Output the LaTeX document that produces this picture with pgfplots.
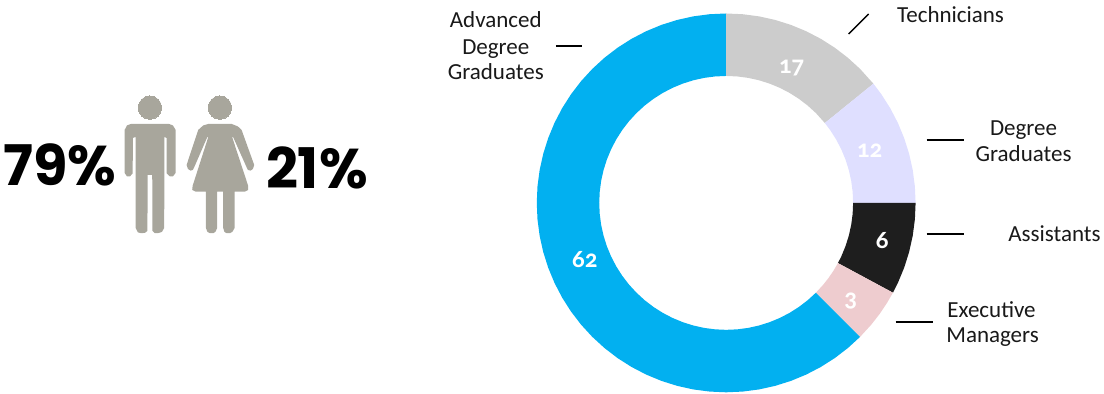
\documentclass[border=0pt]{standalone}
\usepackage{fontspec}
\setmainfont{Carlito}
\newfontfamily\bigfont{Poppins}
\newfontfamily\numfont{Carlito}[RawFeature=+onum]
\usepackage{pgfplots}
\pgfplotsset{compat=1.18}
\definecolor{cblue}{HTML}{02B0F0}
\definecolor{cgray}{HTML}{CCCCCC}
\definecolor{clav}{HTML}{DFDFFF}
\definecolor{cblack}{HTML}{1E1E1E}
\definecolor{cpink}{HTML}{EECCCF}
\definecolor{cicon}{HTML}{A8A69C}
\pgfplotsset{
  px/.style={x filter/.expression={x-726.5},y filter/.expression={203-y}},
  wedge/.style={data cs=polar,draw=none,fill=#1,mark=none},
  tick line/.style={px,black,line width=1.4pt,mark=none},
}
\tikzset{
  lab/.style={anchor=base,font=\fontsize{23}{23}\selectfont,text=black!90},
  val/.style={anchor=base,font=\fontsize{25}{25}\selectfont\numfont\bfseries,text=white},
  bigpct/.style={anchor=base,font=\fontsize{56}{56}\selectfont\bigfont\bfseries,text=black},
}
\begin{document}
\begin{tikzpicture}
\begin{axis}[
  hide axis, scale only axis, clip=false,
  width=1104pt, height=394pt,
  xmin=-726.5, xmax=377.5, ymin=-191, ymax=203,
]
\path (axis cs:-726.5,-191) rectangle (axis cs:377.5,203);
% donut, (angle,radius)
\addplot[wedge=cblue] coordinates {
(-45,189.5)(-50,189.5)(-55,189.5)(-60,189.5)(-65,189.5)(-70,189.5)(-75,189.5)(-80,189.5)(-85,189.5)(-90,189.5)
(-95,189.5)(-100,189.5)(-105,189.5)(-110,189.5)(-115,189.5)(-120,189.5)(-125,189.5)(-130,189.5)(-135,189.5)(-140,189.5)
(-145,189.5)(-150,189.5)(-155,189.5)(-160,189.5)(-165,189.5)(-170,189.5)(-175,189.5)(-180,189.5)(-185,189.5)(-190,189.5)
(-195,189.5)(-200,189.5)(-205,189.5)(-210,189.5)(-215,189.5)(-220,189.5)(-225,189.5)(-230,189.5)(-235,189.5)(-240,189.5)
(-245,189.5)(-250,189.5)(-255,189.5)(-260,189.5)(-265,189.5)(-270,189.5)
(-270,127)(-265,127)(-260,127)(-255,127)(-250,127)(-245,127)
(-240,127)(-235,127)(-230,127)(-225,127)(-220,127)(-215,127)(-210,127)(-205,127)(-200,127)(-195,127)
(-190,127)(-185,127)(-180,127)(-175,127)(-170,127)(-165,127)(-160,127)(-155,127)(-150,127)(-145,127)
(-140,127)(-135,127)(-130,127)(-125,127)(-120,127)(-115,127)(-110,127)(-105,127)(-100,127)(-95,127)
(-90,127)(-85,127)(-80,127)(-75,127)(-70,127)(-65,127)(-60,127)(-55,127)(-50,127)(-45,127)
} -- cycle;
\addplot[wedge=cgray] coordinates {
(90,189.5)(85,189.5)(80,189.5)(75,189.5)(70,189.5)(65,189.5)(60,189.5)(55,189.5)(50,189.5)(45,189.5)(39,189.5)
(39,127)(45,127)(50,127)(55,127)(60,127)(65,127)(70,127)(75,127)(80,127)(85,127)(90,127)
} -- cycle;
\addplot[wedge=clav] coordinates {
(39,189.5)(35,189.5)(30,189.5)(25,189.5)(20,189.5)(15,189.5)(10,189.5)(5,189.5)(0,189.5)
(0,127)(5,127)(10,127)(15,127)(20,127)(25,127)(30,127)(35,127)(39,127)
} -- cycle;
\addplot[wedge=cblack] coordinates {
(0,189.5)(-5,189.5)(-10,189.5)(-15,189.5)(-20,189.5)(-25,189.5)(-28.3,189.5)
(-28.3,127)(-25,127)(-20,127)(-15,127)(-10,127)(-5,127)(0,127)
} -- cycle;
\addplot[wedge=cpink] coordinates {
(-28.3,189.5)(-32,189.5)(-36,189.5)(-40,189.5)(-45,189.5)
(-45,127)(-40,127)(-36,127)(-32,127)(-28.3,127)
} -- cycle;
% leader lines
\addplot[tick line] coordinates {(556,46)(582,46)};
\addplot[tick line] coordinates {(849,34)(869,14)};
\addplot[tick line] coordinates {(927,140)(964,140)};
\addplot[tick line] coordinates {(927,234)(964,234)};
\addplot[tick line] coordinates {(896,322)(933,322)};
% figures
\addplot[px,only marks,color=cicon,mark=*,mark size=11.7pt,mark options={draw=cicon,fill=cicon,line width=0pt}]
  coordinates {(150,107.7)(220,107.7)};
\addplot[px,draw=none,fill=cicon,mark=none] coordinates {
(131,124)(169,124)(173,125.5)(175.7,130)(175.7,173)(173,176.5)(170,176.5)(166.8,173.5)(166.7,138)(164.4,137)
(164.3,228)(162,232)(158,233.3)(155,233.3)(152.5,231)(152.3,175)(147.7,175)(147.5,231)(145,233)(141,233.3)
(138,232.5)(135.7,228)(135.6,137)(133,138)(132.7,173.5)(130,176.5)(127,176.5)(124.7,173)(124.7,130)(127,125.5)
} -- cycle;
\addplot[px,draw=none,fill=cicon,mark=none] coordinates {
(208.5,124)(231.7,124)(238,126.5)(241.7,130)(254.3,165)(253,169)(250.7,170.7)(248,170)(246.7,167.3)(233.3,137.3)
(232.3,137.3)(248.3,186)(248.3,190)(245,191.7)(234.7,191.7)(234.7,228)(232.5,232)(230,233.3)(226.7,233.3)(224.5,232)
(223.3,228)(223.3,191.7)(217.3,191.7)(217.3,228)(215.5,232)(213.3,233.3)(210,233.3)(207.5,232)(206,228)(206,191.7)
(195.7,191.7)(192.3,190)(192.7,186)(208.3,137.3)(207.3,137.3)(194.3,167.3)(193,170)(190.7,170.7)(188,169)(186.7,165)
(198.3,130)(203.3,125.5)
} -- cycle;
% percentages
\node[bigpct] at (axis cs:-666.5,17) {79\%};
\node[bigpct] at (axis cs:-409.5,14.7) {21\%};
% category labels
\node[lab] at (axis cs:-230.5,175.5) {Advanced};
\node[lab] at (axis cs:-230.5,148.8) {Degree};
\node[lab] at (axis cs:-230.5,123) {Graduates};
\node[lab] at (axis cs:224.5,180) {Technicians};
\node[lab] at (axis cs:297.5,67) {Degree};
\node[lab] at (axis cs:297.5,41) {Graduates};
\node[lab] at (axis cs:328.5,-39) {Assistants};
\node[lab] at (axis cs:265.5,-115) {Executive};
\node[lab] at (axis cs:266.5,-140) {Managers};
% values
\node[val] at (axis cs:-141.5,-65) {62};
\node[val] at (axis cs:65.5,129) {17};
\node[val] at (axis cs:143.5,45.5) {12};
\node[val] at (axis cs:156.2,-46) {6};
\node[val] at (axis cs:124.5,-104) {3};
\end{axis}
\end{tikzpicture}
\end{document}
